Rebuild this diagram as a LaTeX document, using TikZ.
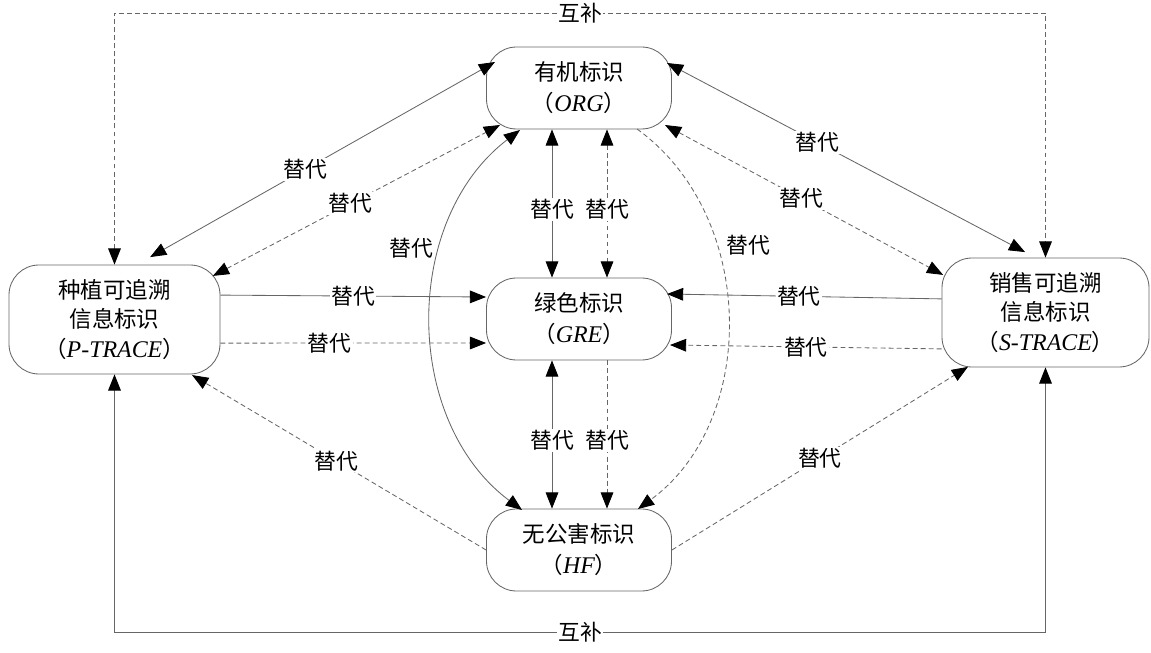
\documentclass[tikz,border=0pt]{standalone}
\usepackage{fontspec}
\setmainfont{Liberation Serif}
\newfontfamily\cjk{Noto Sans CJK SC}
\usepackage{tikz}
\usetikzlibrary{calc}
\usetikzlibrary{arrows.meta}
\usetikzlibrary{positioning}
\definecolor{edge}{gray}{0.4}
\tikzset{>={Triangle[length=11.5pt, width=9pt, color=black]}}
\tikzstyle{idbox} = [rectangle, rounded corners=0.75cm, draw=edge, line width=0.6pt, minimum width=4.625cm, minimum height=2.05cm, inner sep=0, align=center, font=\cjk\fontsize{16}{22}\selectfont]
\tikzstyle{tracebox} = [idbox, minimum width=5.275cm, minimum height=2.725cm, font=\cjk\fontsize{16}{21}\selectfont]
\tikzstyle{tdlab} = [fill=white, inner sep=1pt, font=\cjk\fontsize{15.5}{18}\selectfont]
\tikzstyle{sol} = [draw=edge, line width=0.6pt]
\tikzstyle{dsh} = [sol, dash pattern=on 3.5pt off 2.2pt]
\newcommand{\engname}[1]{（{\rmfamily\itshape\fontsize{17}{22}\selectfont #1}）}

\begin{document}
\begin{tikzpicture}
\useasboundingbox (0,0) rectangle (28.775,16.3);

% labels
\node [idbox] (ORG) at (14.475, 14.1) {有机标识\\\engname{ORG}};
\node [idbox] (GRE) at (14.475, 8.325) {绿色标识\\\engname{GRE}};
\node [idbox] (HF) at (14.475, 2.55) {无公害标识\\\engname{HF}};
\node [tracebox] (PT) at (2.8625, 8.3125) {种植可追溯\\信息标识\\\engname{P-TRACE}};
\node [tracebox, minimum width=5.175cm] (ST) at (26.1375, 8.4875) {销售可追溯\\信息标识\\\engname{S-TRACE}};

\coordinate (topL) at (PT.north |- 0,15.975);
\coordinate (topR) at (ST.north |- 0,15.975);
\coordinate (botL) at (PT.south |- 0,0.5);
\coordinate (botR) at (ST.south |- 0,0.5);

% complementary
\draw [dsh, <->] (PT.north) -- (topL) -- node [tdlab] (hb1) {互补} (topR) -- (ST.north);
\draw [sol, <->] (PT.south) -- (botL) -- node [tdlab] (hb2) {互补} (botR) -- (ST.south);

% planting trace
\draw [sol, <->] ([shift={(0.89,1.56)}]PT.center) to node [tdlab, pos=0.45] (t1) {替代} ([shift={(-2.1,0.65)}]ORG.center);
\draw [dsh, <->] ([shift={(2.46,1.09)}]PT.center) to node [tdlab, pos=0.48] (t2) {替代} ([shift={(-1.975,-0.925)}]ORG.center);
\draw [sol, ->] ([yshift=0.61cm]PT.east) to node [tdlab] (t3) {替代} ([yshift=0.55cm]GRE.west);
\draw [dsh, ->] ([yshift=-0.59cm]PT.east) to node [tdlab, pos=0.41] (t4) {替代} ([yshift=-0.6cm]GRE.west);
\draw [dsh, ->] (HF.west) to node [tdlab, pos=0.51] (t5) {替代} ([shift={(1.94,-1.39)}]PT.center);

% sales trace
\draw [sol, <->] ([shift={(2.2,0.625)}]ORG.center) to node [tdlab, pos=0.42] (t6) {替代} ([shift={(-0.51,1.51)}]ST.center);
\draw [dsh, <->] ([shift={(2.15,-0.925)}]ORG.center) to node [tdlab, pos=0.49] (t7) {替代} ([shift={(-2.56,0.94)}]ST.center);
\draw [sol, ->] ([yshift=0.34cm]ST.west) to node [tdlab, pos=0.52] (t8) {替代} ([shift={(2.2,0.625)}]GRE.center);
\draw [dsh, ->] ([yshift=-0.91cm]ST.west) to node [tdlab] (t9) {替代} ([shift={(2.275,-0.65)}]GRE.center);
\draw [dsh, ->] (HF.east) to node [tdlab] (t10) {替代} ([shift={(-1.94,-1.36)}]ST.center);

% middle column
\draw [sol, <->] ([xshift=-0.675cm]ORG.south) to node [tdlab, pos=0.54] (t11) {替代} ([xshift=-0.675cm]GRE.north);
\draw [dsh, <->] ([xshift=0.7cm]ORG.south) to node [tdlab, pos=0.54] (t12) {替代} ([xshift=0.7cm]GRE.north);
\draw [sol, <->] ([xshift=-0.675cm]GRE.south) to node [tdlab, pos=0.54] (t13) {替代} ([xshift=-0.675cm]HF.north);
\draw [dsh, ->] ([xshift=0.7cm]GRE.south) to node [tdlab, pos=0.54] (t14) {替代} ([xshift=0.7cm]HF.north);

\draw [sol, <->] ([shift={(-1.475,-1.05)}]ORG.center) to [bend right=53] ([shift={(-1.425,1.0)}]HF.center);
\draw [dsh, ->] ([shift={(1.45,-1.025)}]ORG.center) to [bend left=54] ([shift={(1.475,1.025)}]HF.center);
\node [tdlab, fill=none] (t15) at (10.275, 10.1) {替代};
\node [tdlab, fill=none] (t16) at (18.7, 10.175) {替代};
\end{tikzpicture}
\end{document}
